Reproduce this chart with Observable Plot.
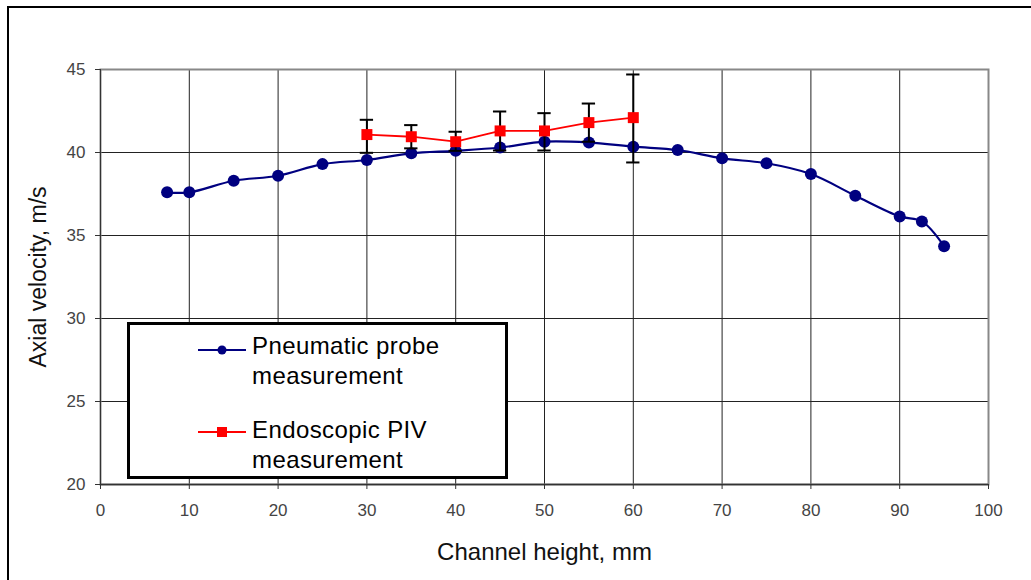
<!DOCTYPE html>
<html>
<head>
<meta charset="utf-8">
<script src="https://cdn.jsdelivr.net/npm/d3@7"></script>
<script src="https://cdn.jsdelivr.net/npm/@observablehq/plot@0.6"></script>
<style>
  html, body { margin: 0; padding: 0; background: #fff; overflow: hidden; width: 1031px; height: 580px; }
  #wrap { position: relative; width: 1031px; height: 580px; font-family: "Liberation Sans", Arial, sans-serif; }
  #outer { position: absolute; left: 7px; top: 6px; width: 1100px; height: 700px; border-left: 2px solid #000; border-top: 2px solid #000; }
  #chart { position: absolute; left: 0; top: 0; }
  #legend { position: absolute; left: 127px; top: 322px; width: 375px; height: 151px; border: 3px solid #000; background: #fff; }
  .item { position: absolute; left: 0; }
  .item svg { position: absolute; left: 68px; }
  .item .txt { position: absolute; left: 122px; font-size: 24px; letter-spacing: 0.4px; line-height: 30px; color: #000; white-space: nowrap; }
</style>
</head>
<body>
<div id="wrap">
  <div id="outer"></div>
  <div id="chart"></div>
  <div id="legend"></div>
</div>
<script>
// Pneumatic probe measurement
const probeX = [7.5, 10, 15, 20, 25, 30, 35, 40, 45, 50, 55, 60, 65, 70, 75, 80, 85, 90, 92.5, 95];
const probeY = [37.6, 37.6, 38.3, 38.6, 39.3, 39.55, 39.95, 40.1, 40.3, 40.65, 40.6, 40.35, 40.15, 39.65, 39.35, 38.7, 37.4, 36.15, 35.85, 34.35];
// Endoscopic PIV measurement
const pivX = [30, 35, 40, 45, 50, 55, 60];
const pivY = [41.08, 40.95, 40.65, 41.3, 41.3, 41.8, 42.1];
const pivLow = [39.98, 40.25, 40.1, 40.12, 40.12, 40.65, 39.4];
const pivHigh = [41.97, 41.65, 41.25, 42.47, 42.37, 42.95, 44.7];
const xTicks = [0, 10, 20, 30, 40, 50, 60, 70, 80, 90, 100];
const yTicks = [20, 25, 30, 35, 40, 45];
const capHalf = 0.75;
const seriesNames = ["Pneumatic probe measurement", "Endoscopic PIV measurement"];
const seriesColors = ["#000080", "#ff0000"];

const probe = probeX.map((x, i) => ({x, y: probeY[i]}));
const piv = pivX.map((x, i) => ({x, y: pivY[i], lo: pivLow[i], hi: pivHigh[i]}));

const chart = Plot.plot({
  width: 1031,
  height: 580,
  marginLeft: 100,
  marginRight: 43,
  marginTop: 69,
  marginBottom: 96,
  style: {fontFamily: "Liberation Sans, Arial, sans-serif", background: "transparent", color: "#000"},
  x: {domain: [0, 100], label: null},
  y: {domain: [20, 45], label: null},
  marks: [
    Plot.gridX(xTicks, {stroke: "#222", strokeOpacity: 1, strokeWidth: 1}),
    Plot.gridY(yTicks, {stroke: "#222", strokeOpacity: 1, strokeWidth: 1}),
    Plot.frame({stroke: "#888", strokeWidth: 2}),
    Plot.ruleX([0], {stroke: "#333", strokeWidth: 1}),
    Plot.ruleY([20], {stroke: "#333", strokeWidth: 1.5}),
    Plot.axisX({ticks: xTicks, tickSize: 5, tickPadding: 14, fontSize: 17, fill: "#444", stroke: "#333", label: null}),
    Plot.axisY({ticks: yTicks, tickSize: 5, tickPadding: 10, fontSize: 17, fill: "#444", stroke: "#333", label: null}),
    Plot.text(["Channel height, mm"], {frameAnchor: "bottom", dy: 68, fontSize: 24, fill: "#111", lineAnchor: "middle"}),
    Plot.text(["Axial velocity, m/s"], {frameAnchor: "left", dx: -62, rotate: -90, fontSize: 23, fill: "#111", textAnchor: "middle", lineAnchor: "middle"}),
    Plot.line(probe, {x: "x", y: "y", stroke: seriesColors[0], strokeWidth: 2.2, curve: "catmull-rom"}),
    Plot.dot(probe, {x: "x", y: "y", r: 6, fill: seriesColors[0], stroke: "none"}),
    Plot.ruleX(piv, {x: "x", y1: "lo", y2: "hi", stroke: "#000", strokeWidth: 2}),
    Plot.ruleY(piv, {y: "lo", x1: d => d.x - capHalf, x2: d => d.x + capHalf, stroke: "#000", strokeWidth: 2}),
    Plot.ruleY(piv, {y: "hi", x1: d => d.x - capHalf, x2: d => d.x + capHalf, stroke: "#000", strokeWidth: 2}),
    Plot.line(piv, {x: "x", y: "y", stroke: seriesColors[1], strokeWidth: 1.8}),
    Plot.dot(piv, {x: "x", y: "y", symbol: "square", r: 6.2, fill: seriesColors[1], stroke: "none"})
  ]
});
document.getElementById("chart").appendChild(chart);

// Legend
const legend = document.getElementById("legend");
const legendTops = [6, 90];
seriesNames.forEach((name, i) => {
  const item = document.createElement("div");
  item.className = "item";
  item.style.top = legendTops[i] + "px";
  const ns = "http://www.w3.org/2000/svg";
  const svg = document.createElementNS(ns, "svg");
  svg.setAttribute("width", "50");
  svg.setAttribute("height", "20");
  svg.style.top = (i === 0 ? 9 : 7) + "px";
  const line = document.createElementNS(ns, "line");
  line.setAttribute("x1", "0"); line.setAttribute("x2", "48");
  line.setAttribute("y1", "10"); line.setAttribute("y2", "10");
  line.setAttribute("stroke", seriesColors[i]); line.setAttribute("stroke-width", "2");
  svg.appendChild(line);
  if (i === 0) {
    const c = document.createElementNS(ns, "circle");
    c.setAttribute("cx", "24"); c.setAttribute("cy", "10"); c.setAttribute("r", "4.5");
    c.setAttribute("fill", seriesColors[i]);
    svg.appendChild(c);
  } else {
    const r = document.createElementNS(ns, "rect");
    r.setAttribute("x", "19"); r.setAttribute("y", "5"); r.setAttribute("width", "10"); r.setAttribute("height", "10");
    r.setAttribute("fill", seriesColors[i]);
    svg.appendChild(r);
  }
  item.appendChild(svg);
  const parts = i === 0 ? ["Pneumatic probe", "measurement"] : ["Endoscopic PIV", "measurement"];
  const txt = document.createElement("div");
  txt.className = "txt";
  txt.innerHTML = parts.join("<br>");
  item.appendChild(txt);
  legend.appendChild(item);
});
</script>
</body>
</html>
